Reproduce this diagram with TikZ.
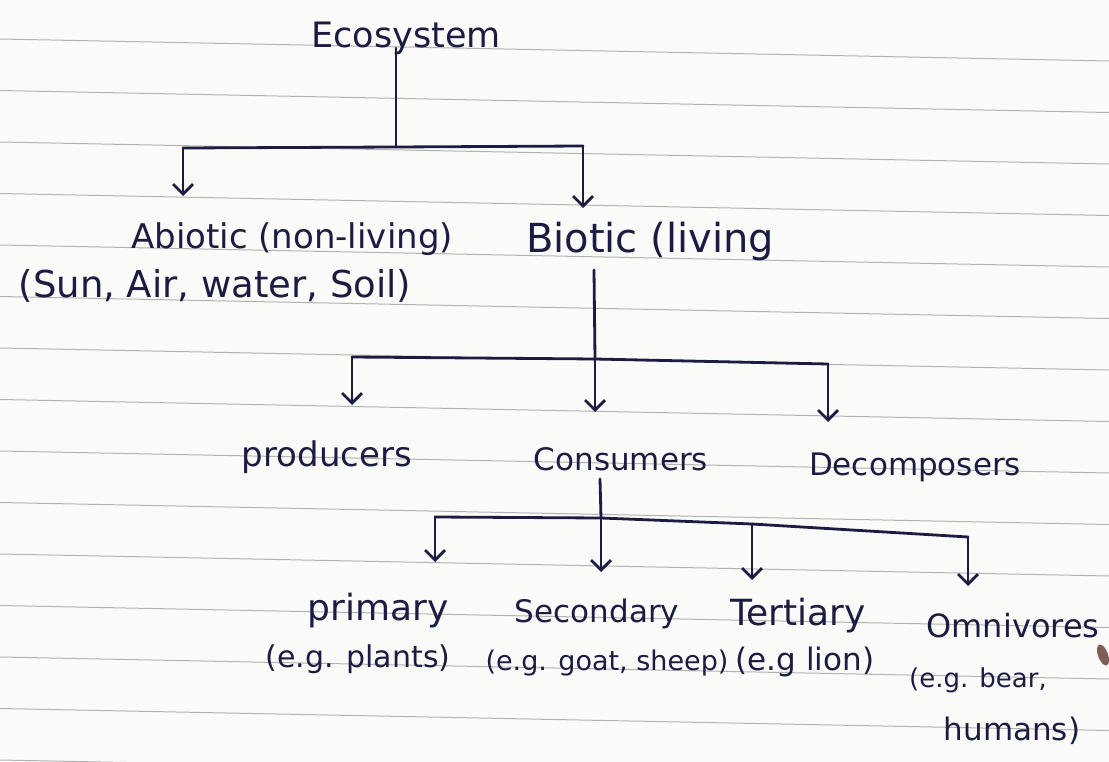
\documentclass[tikz,border=0pt]{standalone}
\usepackage{fontspec}
\setmainfont{DejaVu Sans}
\usetikzlibrary{arrows.meta}
\definecolor{ink}{RGB}{28,28,66}
\definecolor{paper}{RGB}{250,250,249}
\definecolor{ruleln}{RGB}{178,178,178}
\definecolor{smudge}{RGB}{125,95,85}
\newcommand{\fs}[1]{\fontsize{#1}{#1}\selectfont}
\begin{document}
\begin{tikzpicture}[x=1pt,y=-1pt,
  lbl/.style={inner sep=0pt, anchor=base, text=ink, font=\fs{31}},
  wire/.style={draw=ink, line width=2.8pt, line cap=round, line join=round},
  arr/.style={wire, -{Straight Barb[length=10pt,width=20pt]}}]
\fill[paper] (0,0) rectangle (1109,762);
\useasboundingbox (0,0) rectangle (1109,762);
\foreach \k in {0,...,14}
  \draw[ruleln, line width=1pt] ({0},{39+51.5*\k}) -- ({1109},{61+51.5*\k});

% labels
\node[lbl, font=\fs{35}] (eco) at (406,48) {Ecosystem};
\node[lbl, font=\fs{34}] (abio) at (292,249) {Abiotic (non-living)};
\node[lbl, font=\fs{37}] (abioex) at (215,298) {(Sun, Air, water, Soil)};
\node[lbl, font=\fs{40}] (bio) at (650,253) {Biotic (living};
\node[lbl, font=\fs{34}] (prod) at (327,466) {producers};
\node[lbl] (cons) at (621,470) {Consumers};
\node[lbl] (deco) at (915,475) {Decomposers};
\node[lbl, font=\fs{36}] (prim) at (378,620) {primary};
\node[lbl, font=\fs{30}] (primex) at (358,667) {(e.g. plants)};
\node[lbl] (sec) at (597,622) {Secondary};
\node[lbl, font=\fs{27}] (secex) at (607,670) {(e.g. goat, sheep)};
\node[lbl, font=\fs{36}] (ter) at (798,625) {Tertiary};
\node[lbl] (terex) at (805,670) {(e.g lion)};
\node[lbl, font=\fs{32}] (omni) at (1013,637) {Omnivores};
\node[lbl, font=\fs{26}] (omniex) at (978,687) {(e.g. bear,};
\node[lbl] (omniex2) at (1012,740) {humans)};

% level 1
\coordinate (j1) at (396,147);
\coordinate (b1l) at (183,148);
\coordinate (b1r) at (583,146);
\coordinate (tabio) at (183,196);
\coordinate (tbio) at (583,208);
\draw[wire] (eco.base -| j1) -- (j1);
\draw[wire] (b1l) -- (j1) -- (b1r);
\draw[arr] (b1l) -- (tabio);
\draw[arr] (b1r) -- (tbio);

% level 2
\coordinate (s2) at (594,270);
\coordinate (j2) at (595,359);
\coordinate (b2l) at (352,357);
\coordinate (b2r) at (828,364);
\coordinate (tprod) at (352,405);
\coordinate (tcons) at (595,412);
\coordinate (tdeco) at (828,422);
\draw[wire] (s2) -- (j2);
\draw[wire] (b2l) -- (j2) -- (b2r);
\draw[arr] (b2l) -- (tprod);
\draw[arr] (j2) -- (tcons);
\draw[arr] (b2r) -- (tdeco);

% level 3
\coordinate (s3) at (600,479);
\coordinate (j3) at (601,518);
\coordinate (b3l) at (435,517);
\coordinate (b3m) at (752,524);
\coordinate (b3r) at (968,537);
\coordinate (tprim) at (435,562);
\coordinate (tsec) at (601,572);
\coordinate (tter) at (752,580);
\coordinate (tomni) at (968,586);
\draw[wire] (s3) -- (j3);
\draw[wire] (b3l) -- (j3) -- (b3m) -- (b3r);
\draw[arr] (b3l) -- (tprim);
\draw[arr] (j3) -- (tsec);
\draw[arr] (b3m) -- (tter);
\draw[arr] (b3r) -- (tomni);

% pen smudge at right edge
\fill[smudge] (1103,655) ellipse [x radius=5pt, y radius=11pt, rotate=20];
\end{tikzpicture}
\end{document}
